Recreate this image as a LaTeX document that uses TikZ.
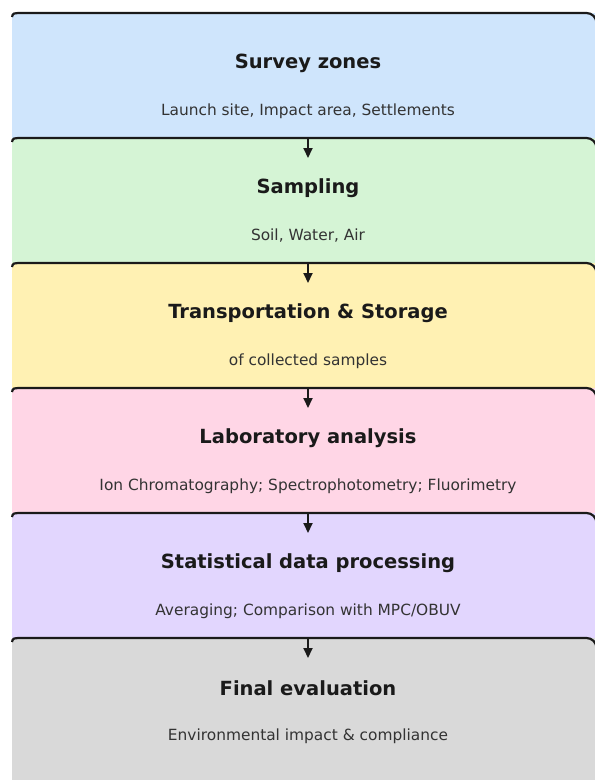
\documentclass[tikz,border=0pt]{standalone}
\usepackage{fontspec}
\setmainfont{DejaVu Sans}
\usetikzlibrary{arrows.meta,positioning,calc}
\definecolor{zoneblue}{HTML}{CFE5FC}
\definecolor{samplegreen}{HTML}{D5F4D5}
\definecolor{storeyellow}{HTML}{FFF1B3}
\definecolor{labpink}{HTML}{FFD6E6}
\definecolor{statlilac}{HTML}{E2D6FE}
\definecolor{finalgray}{HTML}{D9D9D9}
\definecolor{ink}{HTML}{1A1A1A}
\definecolor{subink}{HTML}{333333}

% top edge of a stage box, open on the left like a clipped card
\newcommand{\stagetop}[1]{%
  \draw[edge] ($(#1.north west)+(0,4)$) .. controls ($(#1.north west)+(1,0)$) .. ($(#1.north west)+(12,0)$)
    [rounded corners=10pt] -- (#1.north east) -- (#1.south east);}

\begin{document}
\begin{tikzpicture}[x=1pt,y=-1pt,>={Triangle[length=10pt,width=9pt]}]
  \tikzset{
    stage/.style={minimum width=584.5pt,minimum height=125pt,inner sep=0pt,outer sep=0pt},
    edge/.style={draw=ink,line width=2.2pt},
    title/.style={font=\fontsize{19.5}{22}\selectfont\bfseries,text=ink},
    sub/.style={font=\fontsize{15.4}{18}\selectfont,text=subink},
    flow/.style={->,draw=ink,line width=2pt}
  }
  \useasboundingbox (0,0) rectangle (595,780);

  % stage boxes, top to bottom
  \node[stage,fill=zoneblue] (zones) at (304.25,75.5) {};
  \stagetop{zones}
  \node[stage,fill=samplegreen,below=0pt of zones] (sampling) {};
  \stagetop{sampling}
  \node[stage,fill=storeyellow,below=0pt of sampling] (storage) {};
  \stagetop{storage}
  \node[stage,fill=labpink,below=0pt of storage] (lab) {};
  \stagetop{lab}
  \node[stage,fill=statlilac,below=0pt of lab] (stats) {};
  \stagetop{stats}
  \node[stage,fill=finalgray,below=0pt of stats,minimum height=160pt] (final) {};
  \stagetop{final}

  % labels
  \node[title] (zonestitle) at (308,63) {Survey zones};
  \node[sub] (zonessub) at (308,111) {Launch site, Impact area, Settlements};
  \node[title] (samplingtitle) at (308,188) {Sampling};
  \node[sub] (samplingsub) at (308,236) {Soil, Water, Air};
  \node[title] (storagetitle) at (308,313) {Transportation \& Storage};
  \node[sub] (storagesub) at (308,361) {of collected samples};
  \node[title] (labtitle) at (308,438) {Laboratory analysis};
  \node[sub] (labsub) at (308,486) {Ion Chromatography; Spectrophotometry; Fluorimetry};
  \node[title] (statstitle) at (308,563) {Statistical data processing};
  \node[sub] (statssub) at (308,611) {Averaging; Comparison with MPC/OBUV};
  \node[title] (finaltitle) at (308,688) {Final evaluation};
  \node[sub] (finalsub) at (308,736) {Environmental impact \& compliance};

  % arrows between stages
  \coordinate (a1) at (308,158);
  \coordinate (a2) at (308,283);
  \coordinate (a3) at (308,408);
  \coordinate (a4) at (308,533);
  \coordinate (a5) at (308,658);
  \draw[flow] (zones.south -| a1) -- (a1);
  \draw[flow] (sampling.south -| a2) -- (a2);
  \draw[flow] (storage.south -| a3) -- (a3);
  \draw[flow] (lab.south -| a4) -- (a4);
  \draw[flow] (stats.south -| a5) -- (a5);
\end{tikzpicture}
\end{document}
